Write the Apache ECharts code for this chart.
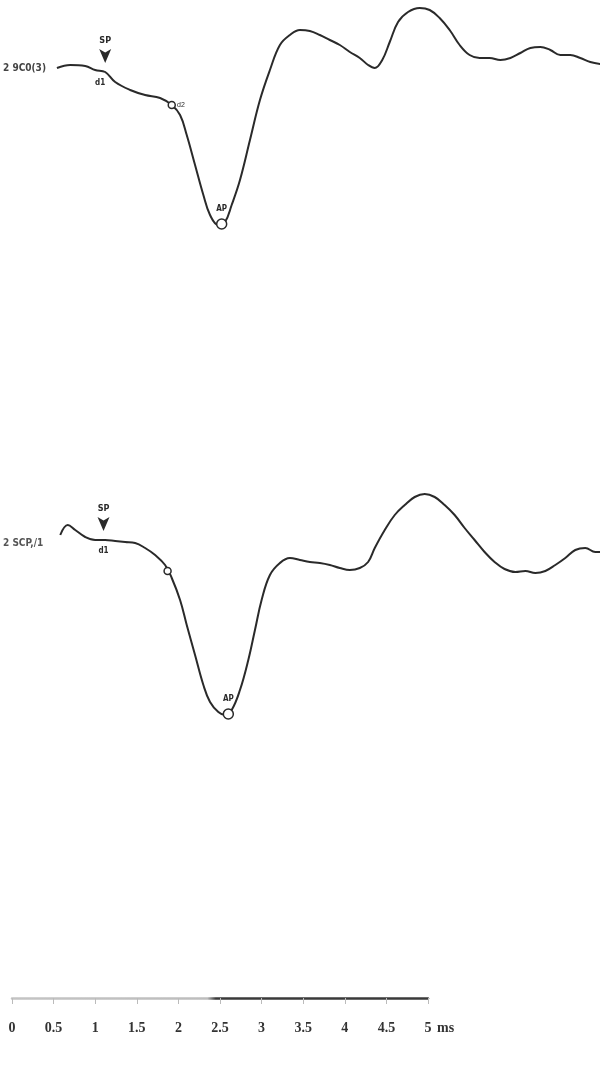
<!DOCTYPE html>
<html>
<head>
<meta charset="utf-8">
<script src="https://cdn.jsdelivr.net/npm/echarts@6/dist/echarts.min.js"></script>
<style>html,body{margin:0;padding:0;background:#fff}#c{width:600px;height:1068px}</style>
</head>
<body>
<div id="c"></div>
<script>
// time in ms, amplitude in arbitrary units (baseline ~0)
const topTime = [0.54,0.70,0.88,1.00,1.12,1.24,1.42,1.60,1.78,1.92,2.02,2.10,2.20,2.30,2.38,2.48,2.56,2.64,2.74,2.86,2.98,3.10,3.22,3.34,3.46,3.58,3.70,3.82,3.94,4.06,4.18,4.28,4.36,4.45,4.54,4.64,4.76,4.90,5.02,5.14,5.26,5.38,5.50,5.62,5.74,5.87,5.99,6.11,6.23,6.35,6.47,6.59,6.71,6.83,6.95,7.07];
const topAmp  = [0.6,0.75,0.7,0.5,0.4,-0.1,-0.5,-0.75,-0.9,-1.25,-1.75,-2.75,-4.25,-5.75,-6.75,-7.25,-7.1,-6.25,-5.0,-3.0,-1.0,0.5,1.75,2.25,2.5,2.45,2.25,2.0,1.75,1.4,1.1,0.75,0.6,1.0,1.9,2.9,3.4,3.6,3.5,3.1,2.5,1.75,1.25,1.1,1.1,1.0,1.1,1.35,1.6,1.65,1.5,1.25,1.25,1.1,0.9,0.8];
const botTime = [0.58,0.67,0.76,0.88,1.00,1.12,1.24,1.36,1.48,1.60,1.72,1.84,1.92,2.02,2.10,2.20,2.30,2.38,2.48,2.56,2.64,2.74,2.84,2.92,3.00,3.10,3.22,3.34,3.46,3.58,3.70,3.82,3.94,4.06,4.18,4.28,4.36,4.48,4.60,4.72,4.84,4.96,5.08,5.20,5.32,5.44,5.56,5.68,5.80,5.92,6.05,6.17,6.29,6.41,6.53,6.65,6.77,6.89,7.01,7.07];
const botAmp  = [1.25,1.75,1.5,1.15,1.0,1.0,0.95,0.9,0.85,0.6,0.25,-0.25,-0.9,-2.0,-3.25,-4.75,-6.25,-7.1,-7.6,-7.75,-7.5,-6.5,-5.0,-3.5,-2.0,-0.75,-0.15,0.1,0,-0.1,-0.15,-0.25,-0.4,-0.5,-0.4,-0.1,0.6,1.5,2.25,2.75,3.15,3.3,3.15,2.75,2.25,1.6,1.0,0.4,-0.1,-0.45,-0.6,-0.55,-0.65,-0.55,-0.25,0.1,0.5,0.6,0.4,0.4];
const traceNames = ['2 9C0(3)', '2 SCP,/1'];
const tickValues = [0,0.5,1,1.5,2,2.5,3,3.5,4,4.5,5];
const tickLabels = ['0','0.5','1','1.5','2','2.5','3','3.5','4','4.5','5'];
const axisUnit = 'ms';
// annotations: [time, amplitude, text]
const topMarks = {sp:[1.12,0.4,'SP'], bl:[1.06,0.4,'d1'], dot:[1.92,-1.25,'d2'], ap:[2.52,-7.2,'AP']};
const botMarks = {sp:[1.10,1.0,'SP'], bl:[1.10,1.0,'d1'], dot:[1.87,-0.55,''], ap:[2.60,-7.7,'AP']};

const chart = echarts.init(document.getElementById('c'));
const ink = '#2a2a2a';
const pairs = (t,a)=>t.map((x,i)=>[x,a[i]]);
function marks(m){
  return {
    symbol:'circle', silent:true,
    data:[
      {coord:[m.sp[0],m.sp[1]], symbol:'arrow', symbolRotate:180, symbolSize:[9,14], symbolOffset:[0,-9], itemStyle:{color:ink},
       label:{show:true, formatter:m.sp[2], position:'top', distance:4, fontSize:9, fontWeight:'bold', color:ink, fontFamily:'DejaVu Sans Condensed'}},
      {coord:[m.bl[0],m.bl[1]], symbolSize:1, itemStyle:{color:'transparent'},
       label:{show:true, formatter:m.bl[2], position:'bottom', distance:6, fontSize:8, fontWeight:'bold', color:ink, fontFamily:'DejaVu Sans Condensed'}},
      {coord:[m.dot[0],m.dot[1]], symbolSize:7, itemStyle:{color:'#fff', borderColor:ink, borderWidth:1.5},
       label:{show:!!m.dot[2], formatter:m.dot[2], position:'right', distance:1, fontSize:7, color:ink}},
      {coord:[m.ap[0],m.ap[1]], symbolSize:10, itemStyle:{color:'#fff', borderColor:ink, borderWidth:1.5},
       label:{show:true, formatter:m.ap[2], position:'top', distance:5, fontSize:8, fontWeight:'bold', color:ink, fontFamily:'DejaVu Sans Condensed'}}
    ]
  };
}
const gradAxis = new echarts.graphic.LinearGradient(0,0,1,0,[
  {offset:0,color:'#c4c4c4'},{offset:0.47,color:'#bdbdbd'},{offset:0.49,color:'#3a3a3a'},{offset:1,color:'#3a3a3a'}]);

chart.setOption({
  animation:false,
  backgroundColor:'#fff',
  grid:[
    {left:12, width:588, top:0, height:240},
    {left:12, width:588, top:480, height:240},
    {left:12, width:416, top:997, height:1}
  ],
  xAxis:[
    {gridIndex:0, type:'value', min:0, max:7.067, show:false},
    {gridIndex:1, type:'value', min:0, max:7.067, show:false},
    {gridIndex:2, type:'value', min:0, max:5, interval:0.5,
     axisLine:{show:true, onZero:false, lineStyle:{color:gradAxis, width:2.5}},
     axisTick:{show:true, inside:false, length:6, lineStyle:{color:'#bbb', width:1}},
     splitLine:{show:false},
     axisLabel:{show:true, margin:23, fontSize:14, color:'#333', fontFamily:'Liberation Serif', fontWeight:'bold',
       formatter:(v)=>{const i=tickValues.indexOf(v); return i>=0?tickLabels[i]:'';}}}
  ],
  yAxis:[
    {gridIndex:0, type:'value', min:-8, max:4, show:false},
    {gridIndex:1, type:'value', min:-8, max:4, show:false},
    {gridIndex:2, type:'value', min:0, max:1, show:false}
  ],
  graphic:[
    {type:'text', left:3, top:63, style:{text:traceNames[0], fontSize:10, fontWeight:'bold', fill:'#444', fontFamily:'DejaVu Sans Condensed'}},
    {type:'text', left:3, top:538, style:{text:traceNames[1], fontSize:10, fontWeight:'bold', fill:'#555', fontFamily:'DejaVu Sans Condensed'}},
    {type:'text', left:437, top:1021, style:{text:axisUnit, fontSize:14, fontWeight:'bold', fill:'#333', fontFamily:'Liberation Serif'}}
  ],
  series:[
    {type:'line', xAxisIndex:0, yAxisIndex:0, data:pairs(topTime,topAmp), smooth:0.4, showSymbol:false,
     lineStyle:{color:ink, width:2}, markPoint:marks(topMarks)},
    {type:'line', xAxisIndex:1, yAxisIndex:1, data:pairs(botTime,botAmp), smooth:0.4, showSymbol:false,
     lineStyle:{color:ink, width:2}, markPoint:marks(botMarks)}
  ]
});
</script>
</body>
</html>
